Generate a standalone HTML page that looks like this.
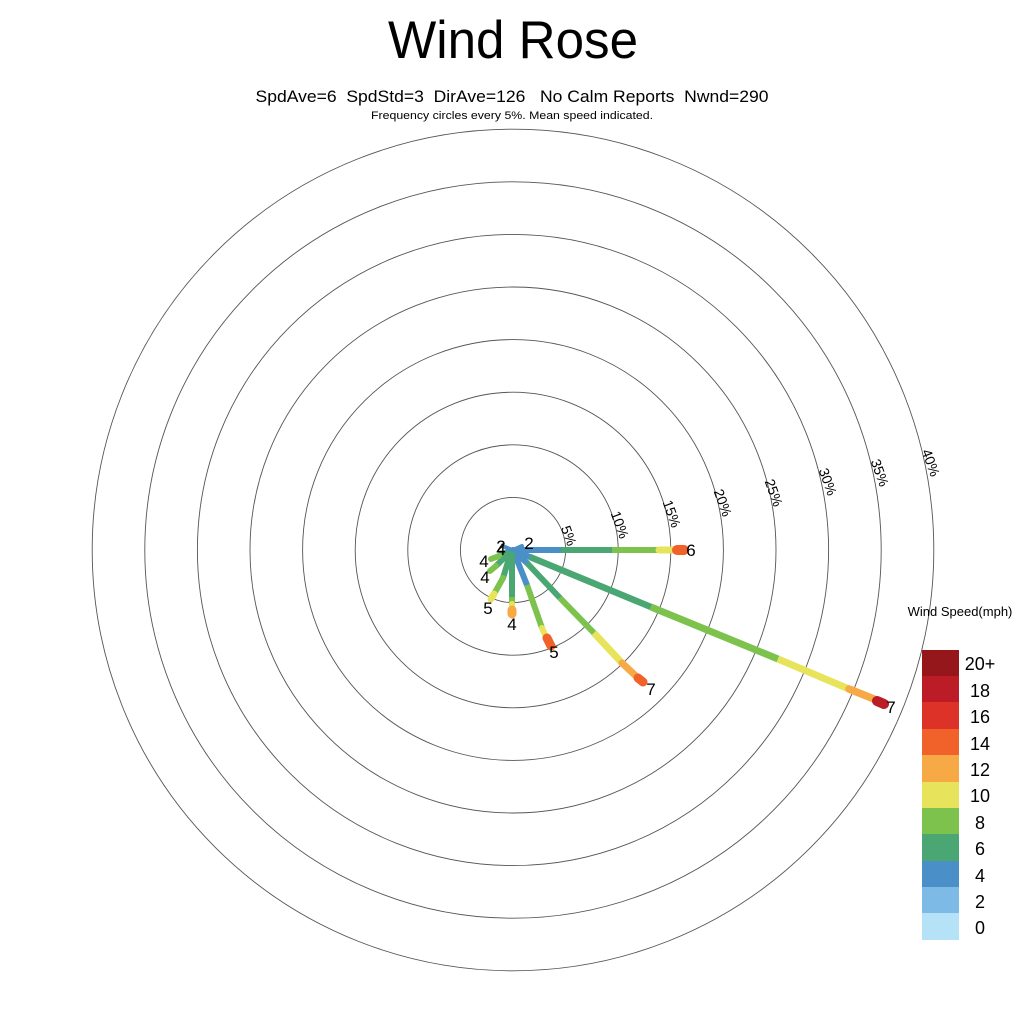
<!DOCTYPE html>
<html><head><meta charset="utf-8"><style>html,body{margin:0;padding:0;background:#fff}svg{display:block}text{font-family:"Liberation Sans",sans-serif}</style></head><body>
<svg width="1024" height="1024" viewBox="0 0 1024 1024" xmlns="http://www.w3.org/2000/svg">
<rect width="1024" height="1024" fill="#fff"/>
<text x="513" y="58" font-size="53" text-anchor="middle" textLength="250" lengthAdjust="spacingAndGlyphs">Wind Rose</text>
<text x="512" y="102" font-size="16.5" text-anchor="middle" textLength="513" lengthAdjust="spacingAndGlyphs" xml:space="preserve">SpdAve=6  SpdStd=3  DirAve=126   No Calm Reports  Nwnd=290</text>
<text x="512" y="119" font-size="11" text-anchor="middle" textLength="282" lengthAdjust="spacingAndGlyphs">Frequency circles every 5%. Mean speed indicated.</text>
<g fill="none" stroke="#555" stroke-width="0.9">
<circle cx="513" cy="550" r="52.6"/><circle cx="513" cy="550" r="105.2"/><circle cx="513" cy="550" r="157.8"/><circle cx="513" cy="550" r="210.4"/><circle cx="513" cy="550" r="263"/><circle cx="513" cy="550" r="315.6"/><circle cx="513" cy="550" r="368.2"/><circle cx="513" cy="550" r="420.8"/>
</g>
<g font-size="14" text-anchor="middle">
<text transform="translate(568,536) rotate(70)" dy="4">5%</text>
<text transform="translate(619,525) rotate(70)" dy="4">10%</text>
<text transform="translate(671,514) rotate(70)" dy="4">15%</text>
<text transform="translate(722,503) rotate(70)" dy="4">20%</text>
<text transform="translate(773,493) rotate(70)" dy="4">25%</text>
<text transform="translate(827,482) rotate(70)" dy="4">30%</text>
<text transform="translate(879,473) rotate(70)" dy="4">35%</text>
<text transform="translate(930,463) rotate(70)" dy="4">40%</text>
</g>
<g stroke-width="6" stroke-linecap="round" fill="none">
<line x1="513" y1="550" x2="530" y2="557" stroke="#4a8fc7"/>
<line x1="530" y1="557" x2="651" y2="607" stroke="#4aa673" stroke-width="6.5" stroke-linecap="butt"/>
<line x1="651" y1="607" x2="778" y2="659" stroke="#7dc24d" stroke-width="7" stroke-linecap="butt"/>
<line x1="778" y1="659" x2="849" y2="689" stroke="#e7e35a" stroke-width="7" stroke-linecap="butt"/>
<line x1="849" y1="689" x2="874" y2="699" stroke="#f6a945" stroke-width="7.5"/>
<line x1="877" y1="701" x2="884" y2="704" stroke="#bb1c25" stroke-width="10"/>
<line x1="513" y1="550" x2="561" y2="550" stroke="#4a8fc7" stroke-linecap="butt"/>
<line x1="561" y1="550" x2="612" y2="550" stroke="#4aa673" stroke-linecap="butt"/>
<line x1="612" y1="550" x2="659" y2="550" stroke="#7dc24d" stroke-linecap="butt"/>
<line x1="659" y1="550" x2="673" y2="550" stroke="#e7e35a" stroke-width="7"/>
<line x1="677" y1="550" x2="684" y2="550" stroke="#f0622a" stroke-width="10"/>
<line x1="513" y1="550" x2="527" y2="563" stroke="#4a8fc7"/>
<line x1="527" y1="563" x2="560" y2="598" stroke="#4aa673" stroke-linecap="butt"/>
<line x1="560" y1="598" x2="594" y2="633" stroke="#7dc24d" stroke-linecap="butt"/>
<line x1="594" y1="633" x2="622" y2="663" stroke="#e7e35a" stroke-width="7" stroke-linecap="butt"/>
<line x1="622" y1="663" x2="637" y2="677" stroke="#f6a945" stroke-width="7"/>
<line x1="638" y1="678" x2="643" y2="682" stroke="#f0622a" stroke-width="9"/>
<line x1="513" y1="550" x2="527" y2="585" stroke="#4a8fc7"/>
<line x1="527" y1="585" x2="542" y2="628" stroke="#7dc24d" stroke-linecap="butt"/>
<line x1="542" y1="628" x2="546" y2="637" stroke="#e7e35a"/>
<line x1="547" y1="638" x2="551" y2="646" stroke="#f0622a" stroke-width="9"/>
<line x1="512" y1="552" x2="512" y2="597" stroke="#4aa673"/>
<line x1="512" y1="597" x2="512" y2="604" stroke="#7dc24d" stroke-linecap="butt"/>
<line x1="512" y1="604" x2="512" y2="608" stroke="#e7e35a"/>
<line x1="512" y1="610" x2="512" y2="614" stroke="#f6a945" stroke-width="9"/>
<line x1="511" y1="552" x2="503" y2="578" stroke="#4aa673"/>
<line x1="503" y1="578" x2="494" y2="594" stroke="#7dc24d"/>
<line x1="494" y1="594" x2="491" y2="599" stroke="#e7e35a" stroke-width="7"/>
<line x1="510" y1="552" x2="496" y2="566" stroke="#4aa673"/>
<line x1="496" y1="566" x2="490" y2="571" stroke="#7dc24d"/>
<line x1="510" y1="551" x2="499" y2="556" stroke="#4aa673"/>
<line x1="499" y1="556" x2="491" y2="559" stroke="#7dc24d"/>
<line x1="512" y1="550" x2="505" y2="547" stroke="#4a8fc7" stroke-width="4"/>
<line x1="513" y1="550" x2="522" y2="546" stroke="#4a8fc7" stroke-width="4"/>
</g>
<g font-size="17" text-anchor="middle">
<text x="691" y="556">6</text>
<text x="891" y="713">7</text>
<text x="651" y="695">7</text>
<text x="554" y="658">5</text>
<text x="512" y="630">4</text>
<text x="488" y="614">5</text>
<text x="485" y="583">4</text>
<text x="484" y="567">4</text>
<text x="501" y="552">2</text>
<text x="501" y="555">4</text>
<text x="529" y="549">2</text>
</g>
<text x="960" y="616" font-size="13" text-anchor="middle">Wind Speed(mph)</text>
<g>
<rect x="922" y="650" width="37" height="27" fill="#95161b"/>
<rect x="922" y="676" width="37" height="27" fill="#bb1c25"/>
<rect x="922" y="702" width="37" height="27" fill="#dd3228"/>
<rect x="922" y="729" width="37" height="27" fill="#f0622a"/>
<rect x="922" y="755" width="37" height="27" fill="#f6a945"/>
<rect x="922" y="782" width="37" height="27" fill="#e7e35a"/>
<rect x="922" y="808" width="37" height="27" fill="#7dc24d"/>
<rect x="922" y="834" width="37" height="27" fill="#4aa673"/>
<rect x="922" y="861" width="37" height="27" fill="#4a8fc7"/>
<rect x="922" y="887" width="37" height="27" fill="#7dbbe6"/>
<rect x="922" y="913" width="37" height="27" fill="#b6e2f7"/>
</g>
<g font-size="18" text-anchor="middle">
<text x="980" y="670">20+</text>
<text x="980" y="697">18</text>
<text x="980" y="723">16</text>
<text x="980" y="750">14</text>
<text x="980" y="776">12</text>
<text x="980" y="802">10</text>
<text x="980" y="829">8</text>
<text x="980" y="855">6</text>
<text x="980" y="882">4</text>
<text x="980" y="908">2</text>
<text x="980" y="934">0</text>
</g>
</svg>
</body></html>
